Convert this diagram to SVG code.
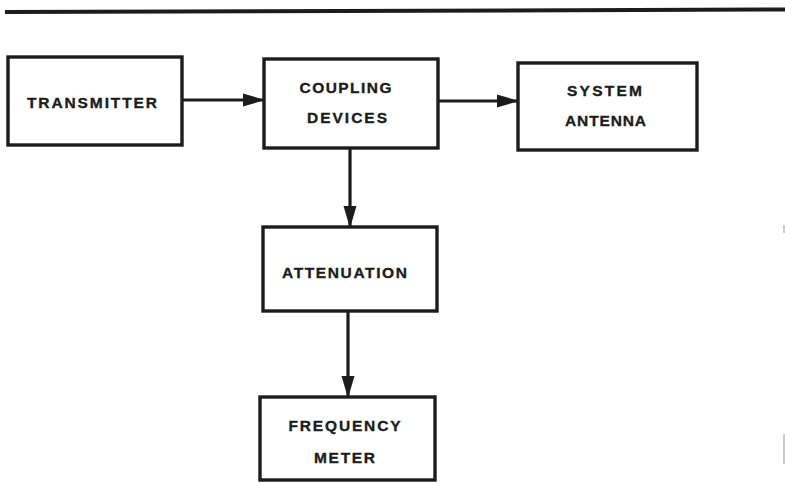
<svg xmlns="http://www.w3.org/2000/svg" width="785" height="483" viewBox="0 0 785 483">
  <defs>
    <style>
      .box { fill: #ffffff; stroke: #1a1d1a; stroke-width: 3.4; }
      .lbl { font-family: "Liberation Sans", Arial, sans-serif; font-weight: bold; font-size: 15.5px; fill: #1a1d1a; stroke: #1a1d1a; stroke-width: 0.35; text-anchor: middle; }
      .wire { stroke: #1a1d1a; stroke-width: 3.2; fill: none; }
    </style>
    <marker id="arrow" viewBox="0 0 22 14" refX="21" refY="7" markerWidth="22" markerHeight="14" markerUnits="userSpaceOnUse" orient="auto">
      <path d="M0,0.5 L22,7 L0,13.5 Z" fill="#1a1d1a"/>
    </marker>
  </defs>
  <rect width="785" height="483" fill="#ffffff"/>

  <!-- header rule -->
  <line x1="5" y1="12" x2="785" y2="9.5" stroke="#1a1d1a" stroke-width="4"/>

  <!-- faint marks at right margin -->
  <line x1="784" y1="225" x2="784" y2="233" stroke="#999" stroke-width="1"/>
  <line x1="784" y1="434" x2="784" y2="464" stroke="#999" stroke-width="1"/>

  <g id="connectors">
    <line class="wire" x1="182" y1="100" x2="264" y2="100" marker-end="url(#arrow)"/>
    <line class="wire" x1="438" y1="101" x2="518" y2="101" marker-end="url(#arrow)"/>
    <line class="wire" x1="350" y1="148" x2="350" y2="227" marker-end="url(#arrow)"/>
    <line class="wire" x1="348" y1="311" x2="348" y2="397" marker-end="url(#arrow)"/>
  </g>

  <g id="transmitter">
    <rect class="box" x="8" y="57" width="174" height="88"/>
    <text class="lbl" x="92" y="107.7" textLength="130" lengthAdjust="spacing">TRANSMITTER</text>
  </g>

  <g id="coupling-devices">
    <rect class="box" x="264" y="59" width="174" height="89"/>
    <text class="lbl" x="345.5" y="92.7" textLength="92" lengthAdjust="spacing">COUPLING</text>
    <text class="lbl" x="347" y="123.3" textLength="80" lengthAdjust="spacing">DEVICES</text>
  </g>

  <g id="system-antenna">
    <rect class="box" x="518" y="63" width="179" height="87"/>
    <text class="lbl" x="604.5" y="95.7" textLength="75" lengthAdjust="spacing">SYSTEM</text>
    <text class="lbl" x="605.5" y="126" textLength="81" lengthAdjust="spacing">ANTENNA</text>
  </g>

  <g id="attenuation">
    <rect class="box" x="263" y="227" width="174" height="84"/>
    <text class="lbl" x="344.5" y="278.3" textLength="125" lengthAdjust="spacing">ATTENUATION</text>
  </g>

  <g id="frequency-meter">
    <rect class="box" x="260" y="397" width="175" height="83"/>
    <text class="lbl" x="344.5" y="430.7" textLength="112" lengthAdjust="spacing">FREQUENCY</text>
    <text class="lbl" x="344.5" y="462.7" textLength="61" lengthAdjust="spacing">METER</text>
  </g>
</svg>
